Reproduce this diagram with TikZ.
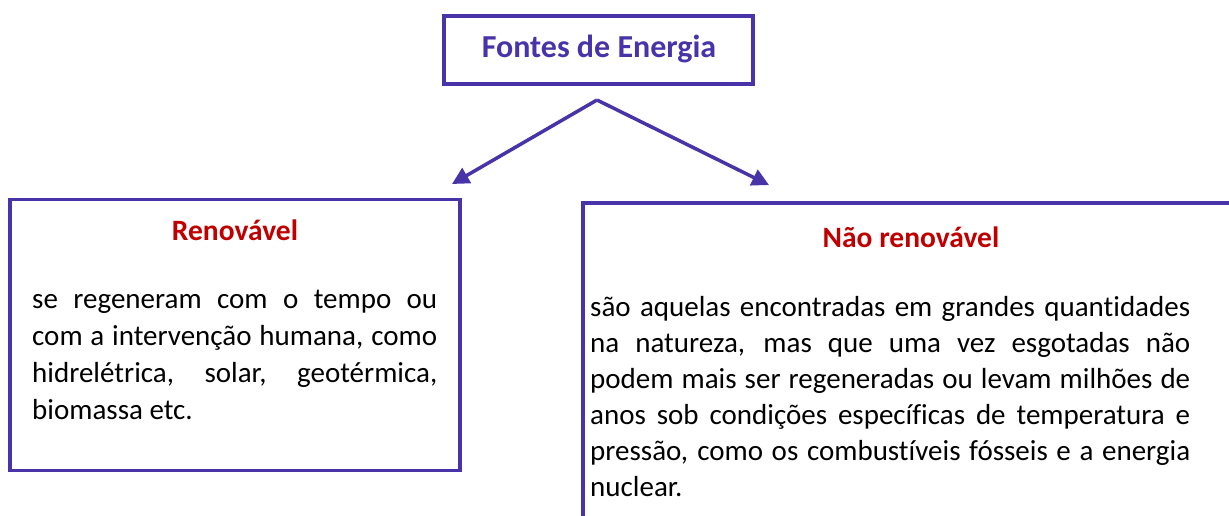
\documentclass[tikz,border=0pt]{standalone}
\usepackage{fontspec}
\setmainfont[Ligatures=NoCommon]{Carlito}
\usetikzlibrary{arrows.meta}
\definecolor{boxblue}{RGB}{72,52,168}
\definecolor{headred}{RGB}{192,0,0}
\tikzset{
  frame/.style={draw=boxblue, line width=3.5pt, inner sep=0pt, outer sep=0pt, fill=none},
  conn/.style={draw=boxblue, line width=3.5pt, -{Triangle[length=17pt,width=17pt]}},
  title/.style={font=\fontsize{29.5}{35}\selectfont\bfseries, inner sep=0pt},
  body/.style={font=\fontsize{29}{36}\selectfont, align=justify, inner sep=0pt, anchor=north west, text=black}
}
\begin{document}
\begin{tikzpicture}[x=1pt,y=-1pt]
\clip (0,0) rectangle (1229,516);
\fill[white] (0,0) rectangle (1229,516);
% top box
\node[frame, minimum width=309pt, minimum height=68pt] (src) at (598.5,50) {};
\node[title, text=boxblue, font=\fontsize{32}{38}\selectfont\bfseries] (srct) at (599,49) {Fontes de Energia};
% left box
\node[frame, minimum width=450pt, minimum height=271pt] (ren) at (235,335) {};
\node[title, text=headred] (rent) at (235,230) {Renovável};
\node[body, text width=405pt, font=\fontsize{29}{37}\selectfont] (renb) at (32,290) {se regeneram com o tempo ou\linebreak com a intervenção humana, como\linebreak hidrelétrica, solar, geotérmica,\linebreak biomassa etc.};
% right box (cut by the picture edge)
\node[frame, minimum width=700pt, minimum height=400pt, anchor=north west] (nren) at (583,203) {};
\node[title, text=headred] (nrent) at (911,237) {Não renovável};
\node[body, text width=600pt] (nrenb) at (590,296) {são aquelas encontradas em grandes quantidades\linebreak na natureza, mas que uma vez esgotadas não\linebreak podem mais ser regeneradas ou levam milhões de\linebreak anos sob condições específicas de temperatura e\linebreak pressão, como os combustíveis fósseis e a energia\linebreak nuclear.};
% connectors
\coordinate (split) at (597,100);
\coordinate (tl) at (452,184);
\coordinate (tr) at (769,185);
\draw[conn] (split) -- (tl);
\draw[conn] (split) -- (tr);
\end{tikzpicture}
\end{document}
